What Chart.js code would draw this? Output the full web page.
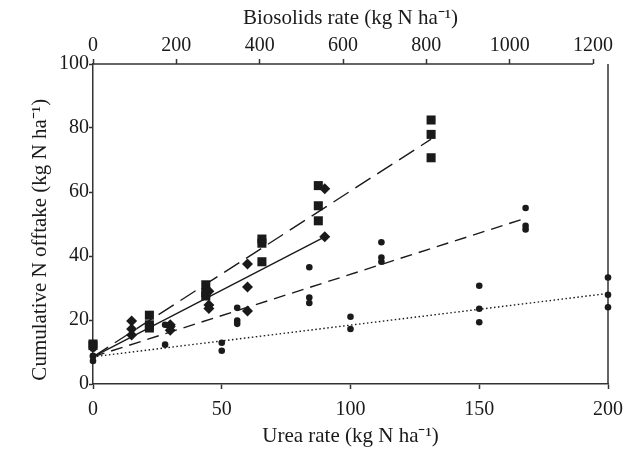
<!DOCTYPE html>
<html>
<head>
<meta charset="utf-8">
<script src="https://cdn.jsdelivr.net/npm/chart.js@4/dist/chart.umd.min.js"></script>
<style>
  body { margin: 0; background: #fff; }
  canvas { display: block; }
</style>
</head>
<body>
<canvas id="chartOfftake" width="641" height="451"></canvas>
<script>
// data
const squareRates = [0, 21.9, 43.8, 65.6, 87.5, 131.3];
const squareValues = [[12.5, 12], [21.5, 18.5, 17.5], [31, 28.5, 27.5], [45.3, 44, 38.2], [62, 55.7, 51], [82.5, 78, 70.7]];
const squareFit = [8.5, 76.5];

const diamondRates = [15, 30, 45, 60, 90];
const diamondValues = [[19.7, 17.2, 15.3], [18.5, 18, 16.8], [29, 24.7, 23.6], [37.5, 30.3, 22.8], [61, 46]];
const diamondFit = [8.5, 46];
const diamondFitRates = [0, 90];

const circleRates = [0, 28, 56, 84, 112, 168];
const circleValues = [[11, 8.8], [18.5, 12.3], [23.8, 19.8, 18.8], [36.5, 27, 25.3], [44.3, 39.5, 38.2], [55, 49.4, 48.3]];
const circleFit = [8.5, 51.8];

const dotRates = [0, 50, 100, 150, 200];
const dotValues = [[8.6, 7.2], [12.9, 10.4], [21, 17.2], [30.7, 23.5, 19.3], [33.3, 27.9, 24]];
const dotFit = [8.5, 28.3];

const ureaTicks = [0, 50, 100, 150, 200];
const biosolidsTicks = [0, 200, 400, 600, 800, 1000, 1200];
const yTicks = [0, 20, 40, 60, 80, 100];

function points(rates, values) {
  let out = [];
  for (let i = 0; i < rates.length; i++) {
    for (let j = 0; j < values[i].length; j++) {
      out.push({x: rates[i], y: values[i][j]});
    }
  }
  return out;
}

function fitLine(xs, ys) {
  return [{x: xs[0], y: ys[0]}, {x: xs[xs.length - 1], y: ys[1]}];
}

let ink = '#1a1a1a';
let axisColor = '#333';
let tickFont = {family: 'Liberation Serif', size: 20};
let titleFont = {family: 'Liberation Serif', size: 21};

function pointSet(data, style, radius) {
  return {
    type: 'scatter', data: data, pointStyle: style, pointRadius: radius,
    backgroundColor: ink, borderColor: ink, borderWidth: 0, showLine: false, order: 1, clip: false
  };
}

function lineSet(data, dash) {
  return {
    type: 'line', data: data, borderColor: ink, borderWidth: 1.4, borderDash: dash,
    pointRadius: 0, fill: false, order: 2, clip: false
  };
}

// right frame line + top axis line that stops at 1200
let framePlugin = {
  id: 'frame',
  beforeDatasetsDraw(chart) {
    let ctx = chart.ctx;
    let area = chart.chartArea;
    let top = chart.scales.x2;
    ctx.save();
    ctx.strokeStyle = axisColor;
    ctx.lineWidth = 1.5;
    ctx.beginPath();
    ctx.moveTo(area.right, area.top);
    ctx.lineTo(area.right, area.bottom);
    ctx.moveTo(top.getPixelForValue(0), area.top);
    ctx.lineTo(top.getPixelForValue(1200), area.top);
    ctx.stroke();
    ctx.restore();
  }
};

let plain = function(value) { return String(value); };

let offtake = document.getElementById('chartOfftake').getContext('2d');

let chartOfftake = new Chart(offtake, {
  data: {
    datasets: [
      pointSet(points(dotRates, dotValues), 'circle', 3.3),
      pointSet(points(circleRates, circleValues), 'circle', 3.3),
      pointSet(points(diamondRates, diamondValues), 'rectRot', 5.5),
      pointSet(points(squareRates, squareValues), 'rect', 6.4),
      lineSet(fitLine(squareRates, squareFit), [18, 8]),
      lineSet(fitLine(diamondFitRates, diamondFit), []),
      lineSet(fitLine(circleRates, circleFit), [12, 7]),
      lineSet(fitLine(dotRates, dotFit), [1.5, 2.5])
    ]
  },
  options: {
    responsive: false,
    animation: false,
    layout: { padding: {left: 0, right: 33, top: 0, bottom: 0} },
    plugins: { legend: {display: false}, tooltip: {enabled: false} },
    scales: {
      x: {
        type: 'linear', position: 'bottom', min: 0, max: 200,
        afterBuildTicks: function(axis) { axis.ticks = ureaTicks.map(v => ({value: v})); },
        afterFit: function(axis) { axis.height = 67; },
        grid: { drawOnChartArea: false, drawTicks: true, tickLength: 5, tickColor: axisColor, tickWidth: 1.5 },
        border: { display: true, color: axisColor, width: 1.5 },
        ticks: { color: ink, font: tickFont, padding: 9, maxRotation: 0, callback: plain },
        title: { display: true, text: 'Urea rate (kg N ha\u207B\u00B9)', color: ink, font: titleFont, padding: {top: 0, bottom: 2} }
      },
      x2: {
        type: 'linear', position: 'top', min: 0, max: 1236,
        afterBuildTicks: function(axis) { axis.ticks = biosolidsTicks.map(v => ({value: v})); },
        afterFit: function(axis) { axis.height = 64; },
        grid: { drawOnChartArea: false, drawTicks: true, tickLength: 5, tickColor: axisColor, tickWidth: 1.5 },
        border: { display: false },
        ticks: { color: ink, font: tickFont, padding: 1, maxRotation: 0, callback: plain },
        title: { display: true, text: 'Biosolids rate (kg N ha\u207B\u00B9)', color: ink, font: titleFont, padding: {top: 6, bottom: 0} }
      },
      y: {
        type: 'linear', position: 'left', min: 0, max: 100,
        afterBuildTicks: function(axis) { axis.ticks = yTicks.map(v => ({value: v})); },
        afterFit: function(axis) { axis.width = 93; },
        grid: { drawOnChartArea: false, drawTicks: true, tickLength: 4, tickColor: axisColor, tickWidth: 1.5 },
        border: { display: true, color: axisColor, width: 1.5 },
        ticks: { color: ink, font: tickFont, padding: 0, callback: plain },
        // trailing spaces push the rotated title a little lower, as in the figure
        title: { display: true, text: 'Cumulative N offtake (kg N ha\u207B\u00B9)\u00A0\u00A0\u00A0\u00A0\u00A0\u00A0', color: ink, font: titleFont, padding: {top: 28, bottom: 0} }
      }
    }
  },
  plugins: [framePlugin]
});
</script>
</body>
</html>
